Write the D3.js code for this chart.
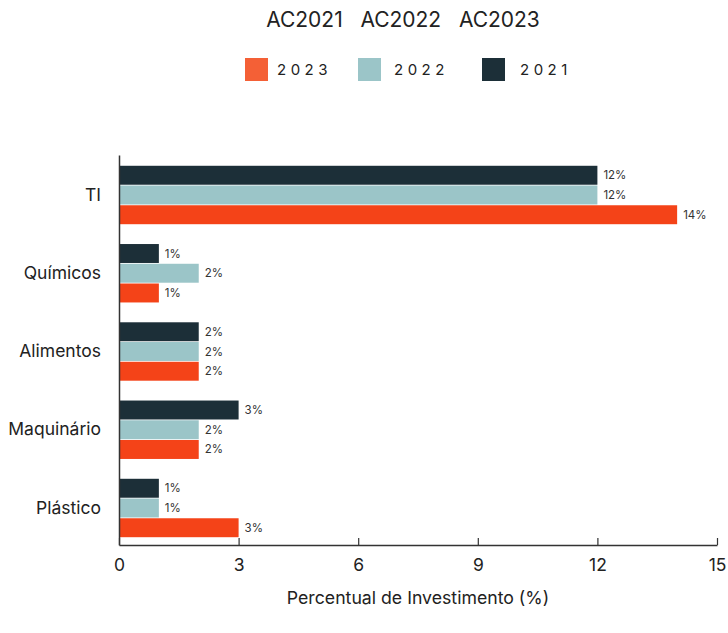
<!DOCTYPE html>
<html><head><meta charset="utf-8">
<script src="https://cdn.jsdelivr.net/npm/d3@7"></script>
<style>
body{margin:0;background:#fff;}
svg{display:block;font-family:Inter,"Noto Sans",sans-serif;}
</style></head>
<body>
<svg id="chart" width="728" height="633"></svg>
<script>
const categories = ["TI","Químicos","Alimentos","Maquinário","Plástico"];
const seriesNames = ["2021","2022","2023"];
const values2021 = [12,1,2,3,1];
const values2022 = [12,2,2,2,1];
const values2023 = [14,1,2,2,3];
const xTicks = [0,3,6,9,12,15];
const legendOrder = ["2023","2022","2021"];
const titleText = "AC2021   AC2022   AC2023";

const colors = {"2021":"#1c2f38","2022":"#9bc5c8","2023":"#f44318"};
const legendColors = {"2021":"#1c2f38","2022":"#9bc5c8","2023":"#f46036"};
const seriesValues = {"2021":values2021,"2022":values2022,"2023":values2023};

const svg = d3.select("#chart");
const mLeft = 119, mRight = 717, mTop = 155, mBottom = 545;

const x = d3.scaleLinear().domain([0,15]).range([mLeft,mRight]);
const y0 = d3.scaleBand().domain(categories).range([mTop,mBottom])
  .paddingInner(0.2332).paddingOuter(0.1086).align(0.588);
const y1 = d3.scaleBand().domain(seriesNames).range([0,y0.bandwidth()]).padding(0.04);

// bars
const groups = svg.append("g").selectAll("g").data(categories).join("g")
  .attr("transform", d => `translate(0,${y0(d)})`);
groups.selectAll("rect").data((c,i) => seriesNames.map(s => ({s, v: seriesValues[s][i]})))
  .join("rect")
  .attr("x", x(0)).attr("y", d => y1(d.s))
  .attr("width", d => x(d.v) - x(0)).attr("height", y1.bandwidth())
  .attr("fill", d => colors[d.s]);
groups.selectAll("text").data((c,i) => seriesNames.map(s => ({s, v: seriesValues[s][i]})))
  .join("text")
  .attr("x", d => x(d.v) + 6).attr("y", d => y1(d.s) + y1.bandwidth()/2)
  .attr("dy","0.35em").attr("font-size",11.5).attr("fill","#333")
  .text(d => d.v + "%");

// x axis
const xAxis = svg.append("g").attr("transform",`translate(0,${mBottom})`)
  .call(d3.axisBottom(x).tickValues(xTicks).tickSizeInner(-7).tickSizeOuter(0).tickPadding(14));
xAxis.select(".domain").attr("stroke","#333").attr("stroke-width",1.5);
xAxis.selectAll(".tick line").attr("stroke","#333").attr("stroke-width",1.2);
xAxis.selectAll(".tick text").attr("font-size",17.5).attr("fill","#222").attr("font-family","Inter,'Noto Sans',sans-serif");

// y axis
const yAxis = svg.append("g").attr("transform",`translate(${mLeft},0)`)
  .call(d3.axisLeft(y0).tickSize(0).tickPadding(18));
yAxis.select(".domain").attr("stroke","#333").attr("stroke-width",1.5);
yAxis.selectAll(".tick text").attr("font-size",17.5).attr("fill","#222").attr("font-family","Inter,'Noto Sans',sans-serif");

// axis title
svg.append("text").attr("x",(mLeft+mRight)/2).attr("y",604).attr("text-anchor","middle")
  .attr("font-size",17.7).attr("fill","#222").text("Percentual de Investimento (%)");

// title
svg.append("text").attr("x",403).attr("y",27).attr("text-anchor","middle")
  .attr("font-size",21).attr("fill","#222").attr("xml:space","preserve").style("white-space","pre")
  .text(titleText);

// legend
const legendX = [245,358,482];
const legendTextX = [277,394,520];
legendOrder.forEach((s,i) => {
  svg.append("rect").attr("x",legendX[i]).attr("y",58).attr("width",23).attr("height",23).attr("fill",legendColors[s]);
  svg.append("text").attr("x",legendTextX[i]).attr("y",70).attr("dy","0.35em")
    .attr("font-size",15).attr("letter-spacing","4.5px").attr("fill","#222").text(s);
});
</script>
</body></html>
